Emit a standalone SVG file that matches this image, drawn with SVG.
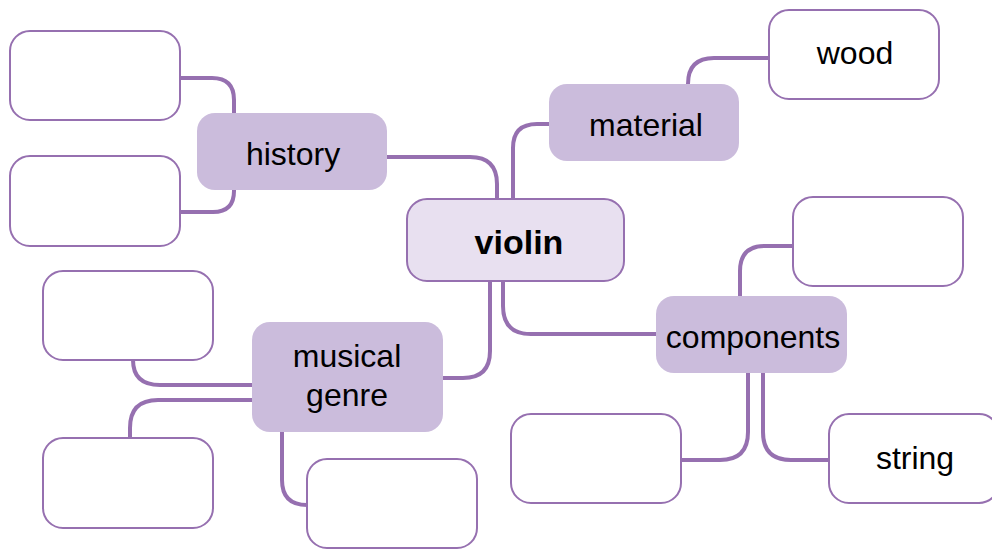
<svg xmlns="http://www.w3.org/2000/svg" width="992" height="550" viewBox="0 0 992 550">
<style>
.leaf{fill:#ffffff;stroke:#9670B0;stroke-width:2}
.mid{fill:#CBBCDC;stroke:none}
.root{fill:#E8E0F0;stroke:#9670B0;stroke-width:2}
.c{fill:none;stroke:#9670B0;stroke-width:4}
text{font-family:"Liberation Sans",Arial,sans-serif;font-size:32px;fill:#000;text-anchor:middle;dominant-baseline:central}
.b{font-weight:bold;font-size:34px}
</style>
<rect width="992" height="550" fill="#ffffff"/>
<g id="connectors">
<path class="c" d="M181,78 H212 Q234,78 234,100 V113"/>
<path class="c" d="M234,190 V191 Q234,212 213,212 H181"/>
<path class="c" d="M387,157 H470 Q497,157 497,184 V199"/>
<path class="c" d="M513,199 V148 Q513,124 537,124 H549"/>
<path class="c" d="M688,84 Q688,58 714,58 H769"/>
<path class="c" d="M503,281 V306 Q503,334 531,334 H656"/>
<path class="c" d="M490,281 V351 Q490,378 463,378 H443"/>
<path class="c" d="M740,296 V271 Q740,246 765,246 H793"/>
<path class="c" d="M748,373 V432 Q748,460 720,460 H681"/>
<path class="c" d="M763,373 V432 Q763,460 791,460 H829"/>
<path class="c" d="M133,360 Q133,385 160,385 H252"/>
<path class="c" d="M252,400 H158 Q130,400 130,428 V438"/>
<path class="c" d="M282,432 V480 Q282,505 307,505"/>
</g>
<g id="violin"><rect class="root" x="407" y="199" width="217" height="82" rx="20"/><text class="b" x="519" y="242">violin</text></g>
<g id="history"><rect class="mid" x="197" y="113" width="190" height="77" rx="18"/><text x="293" y="154">history</text></g>
<g id="history-leaf1"><rect class="leaf" x="10" y="31" width="170" height="89" rx="20"/></g>
<g id="history-leaf2"><rect class="leaf" x="10" y="156" width="170" height="90" rx="20"/></g>
<g id="material"><rect class="mid" x="549" y="84" width="190" height="77" rx="18"/><text x="646" y="125">material</text></g>
<g id="wood"><rect class="leaf" x="769" y="10" width="170" height="89" rx="20"/><text x="855" y="53">wood</text></g>
<g id="components"><rect class="mid" x="656" y="296" width="191" height="77" rx="18"/><text x="753" y="337">components</text></g>
<g id="components-leaf1"><rect class="leaf" x="793" y="197" width="170" height="89" rx="20"/></g>
<g id="components-leaf2"><rect class="leaf" x="511" y="414" width="170" height="89" rx="20"/></g>
<g id="string"><rect class="leaf" x="829" y="414" width="170" height="89" rx="20"/><text x="915" y="458">string</text></g>
<g id="musical-genre"><rect class="mid" x="252" y="322" width="191" height="110" rx="18"/><text x="347" y="356">musical</text><text x="347" y="395">genre</text></g>
<g id="genre-leaf1"><rect class="leaf" x="43" y="271" width="170" height="89" rx="20"/></g>
<g id="genre-leaf2"><rect class="leaf" x="43" y="438" width="170" height="90" rx="20"/></g>
<g id="genre-leaf3"><rect class="leaf" x="307" y="459" width="170" height="89" rx="20"/></g>
</svg>
